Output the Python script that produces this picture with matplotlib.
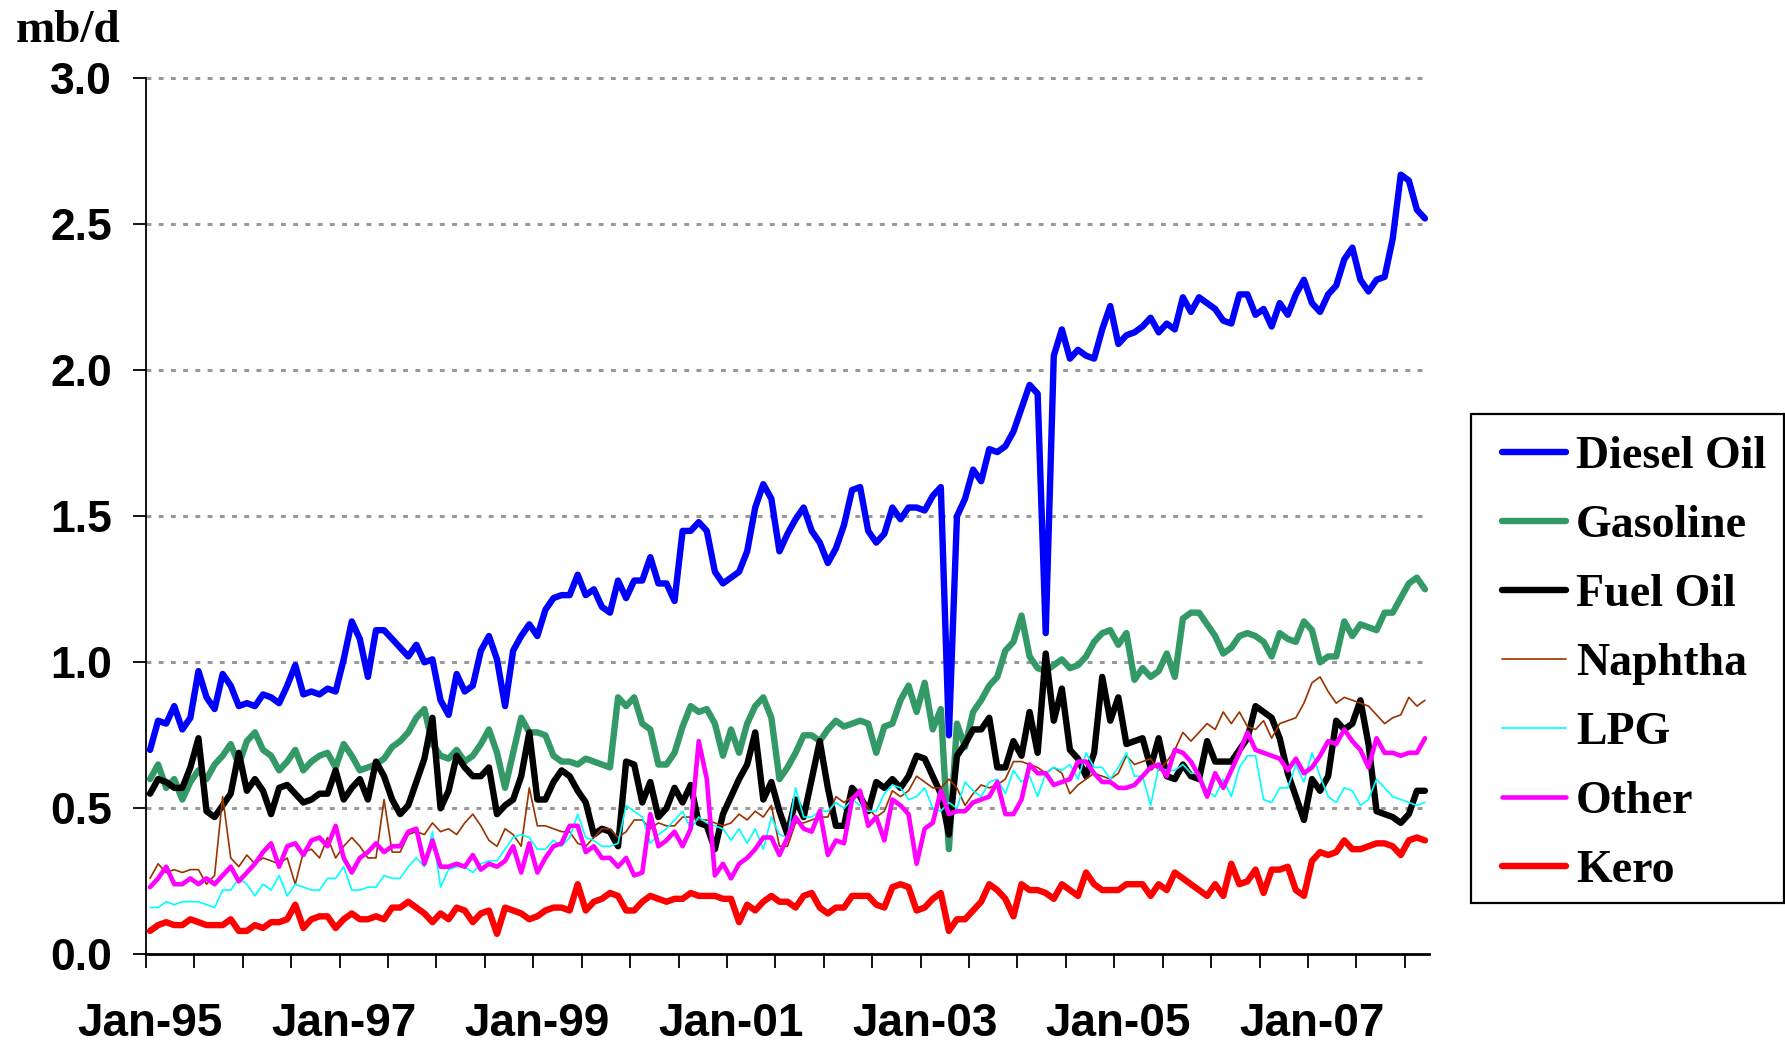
import numpy as np
import matplotlib
matplotlib.use("Agg")
import matplotlib.pyplot as plt
from matplotlib.patches import Rectangle

# ---------------- data (mb/d, monthly Jan-95 .. Mar-08) ----------------
diesel = [0.70, 0.80, 0.79, 0.85, 0.77, 0.81, 0.97, 0.88, 0.84, 0.96, 0.92, 0.85, 0.86, 0.85, 0.89, 0.88, 0.86, 0.92, 0.99, 0.89, 0.90, 0.89, 0.91, 0.90, 1.01, 1.14, 1.08,
          0.95, 1.11, 1.11, 1.08, 1.05, 1.02, 1.06, 1.00, 1.01, 0.87, 0.82, 0.96, 0.90, 0.92, 1.04, 1.09, 1.01, 0.85, 1.04, 1.09, 1.13, 1.09, 1.18, 1.22, 1.23, 1.23, 1.30,
          1.23, 1.25, 1.19, 1.17, 1.28, 1.22, 1.28, 1.28, 1.36, 1.27, 1.27, 1.21,
          1.45, 1.45, 1.48, 1.45, 1.31, 1.27, 1.29, 1.31, 1.38, 1.53, 1.61, 1.56, 1.38, 1.44,
          1.49, 1.53, 1.45, 1.41, 1.34, 1.39, 1.47, 1.59, 1.60, 1.45, 1.41, 1.44, 1.53, 1.49, 1.53, 1.53, 1.52, 1.57, 1.60, 0.75,
          1.50, 1.56, 1.66, 1.62, 1.73, 1.72, 1.74, 1.79, 1.87, 1.95, 1.92, 1.10,
          2.05, 2.14, 2.04, 2.07, 2.05, 2.04, 2.14, 2.22, 2.09, 2.12, 2.13, 2.15, 2.18, 2.13, 2.16, 2.14, 2.25, 2.20, 2.25,
          2.23, 2.21, 2.17, 2.16, 2.26, 2.26, 2.19, 2.21, 2.15, 2.23, 2.19, 2.26, 2.31, 2.23, 2.20, 2.26, 2.29, 2.38, 2.42, 2.31,
          2.27, 2.31, 2.32, 2.45, 2.67, 2.65, 2.55, 2.52]

gasoline = [0.60, 0.65, 0.57, 0.60, 0.53, 0.59, 0.63, 0.60, 0.65, 0.68, 0.72, 0.65, 0.73, 0.76, 0.70, 0.68, 0.63, 0.66, 0.70, 0.63, 0.66, 0.68, 0.69, 0.64, 0.72, 0.68, 0.63,
            0.64, 0.65, 0.67, 0.71, 0.73, 0.76, 0.81, 0.84, 0.72, 0.68, 0.67, 0.70, 0.66, 0.68, 0.72, 0.77, 0.69, 0.57, 0.69, 0.81, 0.76, 0.76, 0.75, 0.68, 0.66, 0.66, 0.65,
            0.67, 0.66, 0.65, 0.64, 0.88, 0.85, 0.88, 0.79, 0.77, 0.65, 0.65, 0.69, 0.78, 0.85, 0.83, 0.84, 0.79, 0.68, 0.77, 0.69,
            0.79, 0.85, 0.88, 0.81, 0.60, 0.64, 0.69, 0.75, 0.75, 0.73, 0.77, 0.80, 0.78, 0.79, 0.80, 0.79, 0.69, 0.78, 0.79, 0.87,
            0.92, 0.83, 0.93, 0.77, 0.84, 0.36, 0.79, 0.71, 0.83, 0.87, 0.92, 0.95, 1.04,
            1.07, 1.16, 1.02, 0.98, 0.97, 0.99, 1.01, 0.98, 0.99, 1.02, 1.07, 1.10, 1.11, 1.06, 1.10, 0.94, 0.98, 0.95, 0.97, 1.03,
            0.95, 1.15, 1.17, 1.17, 1.13, 1.09, 1.03, 1.05, 1.09, 1.10, 1.09, 1.07, 1.02, 1.10, 1.08, 1.07, 1.14, 1.11, 1.00, 1.02,
            1.02, 1.14, 1.09, 1.13, 1.12, 1.11, 1.17, 1.17, 1.22, 1.27, 1.29, 1.25]

fuel_oil = [0.55, 0.60, 0.59, 0.57, 0.57, 0.64, 0.74, 0.49, 0.47, 0.51, 0.55, 0.69, 0.56, 0.60, 0.56, 0.48, 0.57, 0.58, 0.55, 0.52, 0.53, 0.55, 0.55, 0.63, 0.53, 0.57, 0.60,
            0.53, 0.66, 0.61, 0.53, 0.48, 0.51, 0.59, 0.67, 0.81, 0.50, 0.56, 0.68, 0.64, 0.61, 0.61, 0.64, 0.48, 0.51, 0.53, 0.61, 0.76, 0.53, 0.53, 0.59, 0.63, 0.61, 0.56,
            0.52, 0.41, 0.43, 0.42, 0.37, 0.66, 0.65, 0.52, 0.59, 0.47, 0.50, 0.57, 0.52, 0.58, 0.45, 0.44, 0.36, 0.48, 0.54, 0.60,
            0.65, 0.76, 0.53, 0.59, 0.49, 0.41, 0.53, 0.47, 0.60, 0.73, 0.57, 0.44, 0.44, 0.57, 0.54, 0.49, 0.59, 0.57, 0.60, 0.57,
            0.61, 0.68, 0.67, 0.61, 0.55, 0.41, 0.68, 0.72, 0.77, 0.77, 0.81, 0.64, 0.64,
            0.73, 0.68, 0.83, 0.69, 1.03, 0.80, 0.91, 0.70, 0.67, 0.61, 0.69, 0.95, 0.80, 0.88, 0.72, 0.73, 0.74, 0.64, 0.74, 0.61,
            0.60, 0.65, 0.61, 0.60, 0.73, 0.66, 0.66, 0.66, 0.70, 0.74, 0.85, 0.83, 0.81, 0.74, 0.62, 0.54, 0.46, 0.60, 0.56, 0.61,
            0.80, 0.77, 0.79, 0.87, 0.72, 0.49, 0.48, 0.47, 0.45, 0.48, 0.56, 0.56]

naphtha = [0.26, 0.31, 0.28, 0.29, 0.28, 0.29, 0.29, 0.24, 0.27, 0.54, 0.33, 0.30, 0.34, 0.31, 0.33, 0.32, 0.31, 0.33, 0.24, 0.35, 0.36, 0.33, 0.40, 0.33, 0.37, 0.40, 0.37,
           0.33, 0.33, 0.53, 0.35, 0.35, 0.41, 0.42, 0.41, 0.45, 0.42, 0.43, 0.41, 0.45, 0.48, 0.44, 0.39, 0.37, 0.43, 0.41, 0.37, 0.57, 0.44, 0.44, 0.43, 0.42, 0.42, 0.38,
           0.37, 0.40, 0.43, 0.43, 0.40, 0.42, 0.46, 0.46, 0.43, 0.45, 0.44, 0.44, 0.47, 0.47, 0.46, 0.46, 0.45, 0.44, 0.45, 0.48,
           0.46, 0.49, 0.47, 0.51, 0.37, 0.37, 0.45, 0.45, 0.46, 0.47, 0.47, 0.54, 0.52, 0.54, 0.55, 0.50, 0.47, 0.49, 0.56, 0.54,
           0.56, 0.61, 0.59, 0.57, 0.57, 0.60, 0.57, 0.51, 0.55, 0.58, 0.57, 0.58, 0.60,
           0.66, 0.66, 0.65, 0.64, 0.62, 0.64, 0.62, 0.55, 0.58, 0.60, 0.62, 0.61, 0.60, 0.62, 0.68, 0.65, 0.66, 0.67, 0.63, 0.66,
           0.70, 0.76, 0.73, 0.76, 0.79, 0.77, 0.83, 0.79, 0.83, 0.78, 0.77, 0.80, 0.74, 0.79, 0.80, 0.81, 0.86, 0.93, 0.95, 0.90,
           0.86, 0.88, 0.87, 0.86, 0.85, 0.82, 0.79, 0.81, 0.82, 0.88, 0.85, 0.87]

lpg = [0.16, 0.16, 0.18, 0.17, 0.18, 0.18, 0.18, 0.17, 0.16, 0.22, 0.22, 0.26, 0.24, 0.20, 0.24, 0.22, 0.27, 0.20, 0.24, 0.23, 0.22, 0.22, 0.26, 0.26, 0.30, 0.22, 0.22,
       0.23, 0.23, 0.27, 0.26, 0.26, 0.30, 0.33, 0.30, 0.42, 0.23, 0.29, 0.30, 0.30, 0.28, 0.31, 0.32, 0.32, 0.36, 0.40, 0.41, 0.40, 0.36, 0.36, 0.39, 0.37, 0.40, 0.48,
       0.40, 0.39, 0.37, 0.37, 0.38, 0.51, 0.49, 0.47, 0.38, 0.41, 0.43, 0.46, 0.49, 0.43, 0.47, 0.45, 0.44, 0.43, 0.39, 0.43,
       0.38, 0.43, 0.36, 0.47, 0.41, 0.40, 0.57, 0.47, 0.47, 0.49, 0.49, 0.52, 0.50, 0.53, 0.51, 0.49, 0.49, 0.55, 0.58, 0.57,
       0.53, 0.54, 0.57, 0.50, 0.49, 0.52, 0.50, 0.59, 0.56, 0.54, 0.59, 0.60, 0.55,
       0.63, 0.59, 0.61, 0.54, 0.62, 0.64, 0.63, 0.65, 0.60, 0.69, 0.64, 0.64, 0.60, 0.64, 0.69, 0.61, 0.61, 0.51, 0.64, 0.63,
       0.63, 0.65, 0.62, 0.62, 0.56, 0.54, 0.60, 0.54, 0.64, 0.68, 0.68, 0.53, 0.52, 0.57, 0.57, 0.65, 0.59, 0.69, 0.61, 0.54,
       0.52, 0.57, 0.56, 0.51, 0.53, 0.60, 0.57, 0.54, 0.53, 0.52, 0.51, 0.52]

other = [0.23, 0.26, 0.30, 0.24, 0.24, 0.26, 0.24, 0.26, 0.24, 0.27, 0.30, 0.25, 0.28, 0.31, 0.35, 0.38, 0.30, 0.37, 0.38, 0.34, 0.39, 0.40, 0.37, 0.44, 0.33, 0.28, 0.33,
         0.35, 0.38, 0.35, 0.37, 0.37, 0.42, 0.43, 0.31, 0.39, 0.30, 0.30, 0.31, 0.30, 0.34, 0.29, 0.31, 0.30, 0.32, 0.37, 0.28, 0.38, 0.28, 0.33, 0.37, 0.38, 0.44, 0.44,
         0.35, 0.37, 0.33, 0.33, 0.30, 0.33, 0.27, 0.28, 0.48, 0.37, 0.39, 0.42, 0.37, 0.43, 0.73, 0.60, 0.27, 0.31, 0.26, 0.31,
         0.33, 0.36, 0.40, 0.40, 0.34, 0.40, 0.47, 0.43, 0.42, 0.49, 0.34, 0.39, 0.38, 0.53, 0.56, 0.44, 0.47, 0.39, 0.53, 0.51,
         0.48, 0.31, 0.43, 0.45, 0.56, 0.48, 0.49, 0.49, 0.52, 0.53, 0.54, 0.59, 0.48,
         0.48, 0.53, 0.65, 0.62, 0.62, 0.58, 0.59, 0.60, 0.66, 0.66, 0.62, 0.59, 0.59, 0.57, 0.57, 0.58, 0.61, 0.64, 0.65, 0.61,
         0.70, 0.69, 0.66, 0.61, 0.54, 0.62, 0.57, 0.63, 0.69, 0.76, 0.70, 0.69, 0.68, 0.67, 0.63, 0.67, 0.62, 0.64, 0.68, 0.73,
         0.72, 0.77, 0.73, 0.70, 0.64, 0.74, 0.69, 0.69, 0.68, 0.69, 0.69, 0.74]

kero = [0.08, 0.10, 0.11, 0.10, 0.10, 0.12, 0.11, 0.10, 0.10, 0.10, 0.12, 0.08, 0.08, 0.10, 0.09, 0.11, 0.11, 0.12, 0.17, 0.09, 0.12, 0.13, 0.13, 0.09, 0.12, 0.14, 0.12,
        0.12, 0.13, 0.12, 0.16, 0.16, 0.18, 0.16, 0.14, 0.11, 0.14, 0.12, 0.16, 0.15, 0.11, 0.14, 0.15, 0.07, 0.16, 0.15, 0.14, 0.12, 0.13, 0.15, 0.16, 0.16, 0.15, 0.24,
        0.15, 0.18, 0.19, 0.21, 0.20, 0.15, 0.15, 0.18, 0.20, 0.19, 0.18, 0.19, 0.19, 0.21, 0.20, 0.20, 0.20, 0.19, 0.19, 0.11,
        0.17, 0.15, 0.18, 0.20, 0.18, 0.18, 0.16, 0.20, 0.21, 0.16, 0.14, 0.16, 0.16, 0.20, 0.20, 0.20, 0.17, 0.16, 0.23, 0.24,
        0.23, 0.15, 0.16, 0.19, 0.21, 0.08, 0.12, 0.12, 0.15, 0.18, 0.24, 0.22, 0.19,
        0.13, 0.24, 0.22, 0.22, 0.21, 0.19, 0.24, 0.22, 0.20, 0.28, 0.24, 0.22, 0.22, 0.22, 0.24, 0.24, 0.24, 0.20, 0.24, 0.22,
        0.28, 0.26, 0.24, 0.22, 0.20, 0.24, 0.20, 0.31, 0.24, 0.25, 0.29, 0.21, 0.29, 0.29, 0.30, 0.22, 0.20, 0.32, 0.35, 0.34,
        0.35, 0.39, 0.36, 0.36, 0.37, 0.38, 0.38, 0.37, 0.34, 0.39, 0.40, 0.39]

series_names = ["Diesel Oil", "Gasoline", "Fuel Oil", "Naphtha", "LPG", "Other", "Kero"]
series_values = [diesel, gasoline, fuel_oil, naphtha, lpg, other, kero]
series_colors = ["#0000FF", "#339966", "#000000", "#993300", "#00FFFF", "#FF00FF", "#FF0000"]
series_widths = [4.6, 4.6, 4.6, 1.2, 1.2, 3.3, 4.6]

x_labels = ["Jan-95", "Jan-97", "Jan-99", "Jan-01", "Jan-03", "Jan-05", "Jan-07"]
y_ticks = [0.0, 0.5, 1.0, 1.5, 2.0, 2.5, 3.0]
unit_label = "mb/d"

# ---------------- figure ----------------
W, H = 1785, 1043
fig = plt.figure(figsize=(W / 100, H / 100), dpi=100)
ax = fig.add_axes([146 / W, 1 - 954.3 / H, (1429 - 146) / W, (954.3 - 78.3) / H])

n = len(diesel)
months = np.arange(n)

handles = []
for name, vals, col, lw in zip(series_names, series_values, series_colors, series_widths):
    h, = ax.plot(months, vals, color=col, lw=lw, solid_joinstyle="round",
                 solid_capstyle="round", label=name, zorder=3)
    handles.append(h)

ax.set_xlim(-0.5, n - 0.5)
ax.set_ylim(0, 3.0)

# y axis
ax.set_yticks(y_ticks)
ax.set_yticklabels([f"{v:.1f}" for v in y_ticks], family="Liberation Sans",
                   fontweight="bold", fontsize=32)
ax.tick_params(axis="y", direction="out", length=9.5, width=1.3, pad=15, colors="black")

# x axis: tick marks every 6 months (category boundaries), labels every 2 years
ax.set_xticks(np.arange(-0.5, n, 6), minor=True)
ax.set_xticks(np.arange(0, n, 24)[:len(x_labels)])
ax.set_xticklabels(x_labels, family="Liberation Sans", fontweight="bold", fontsize=33)
ax.tick_params(axis="x", which="major", length=0, pad=34)
ax.tick_params(axis="x", which="minor", direction="out", length=10, width=1.3)

for s in ["top", "right"]:
    ax.spines[s].set_visible(False)
ax.spines["left"].set_linewidth(1.3)
ax.spines["bottom"].set_linewidth(2.0)
ax.spines["left"].set_zorder(4)
ax.spines["bottom"].set_zorder(4)

# dotted horizontal gridlines
for v in y_ticks[1:]:
    ax.axhline(v, color="#999999", lw=2.2, linestyle=(0, (1.6, 2.4)),
               dash_capstyle="butt", zorder=1, clip_on=False)

# unit label
fig.text(16 / W, 1 - 42 / H, unit_label, family="Liberation Serif", fontweight="bold",
         fontsize=34, ha="left", va="baseline")

# legend with separate frame
fig.patches.append(Rectangle((1471 / W, 1 - 903 / H), (1783.5 - 1471) / W, (903 - 414) / H,
                             transform=fig.transFigure, fill=False, edgecolor="black",
                             lw=1.6, figure=fig))
fs = 33
px = fs * 100 / 72
leg = fig.legend(handles, series_names, loc="upper left",
                 bbox_to_anchor=(1502 / W, 1 - 435.5 / H), bbox_transform=fig.transFigure,
                 frameon=False, borderpad=0, borderaxespad=0,
                 handlelength=64 / px, handletextpad=10 / px, labelspacing=0.59,
                 prop={"family": "Liberation Serif", "weight": "bold", "size": fs})

fig.savefig("out.png", dpi=100)
